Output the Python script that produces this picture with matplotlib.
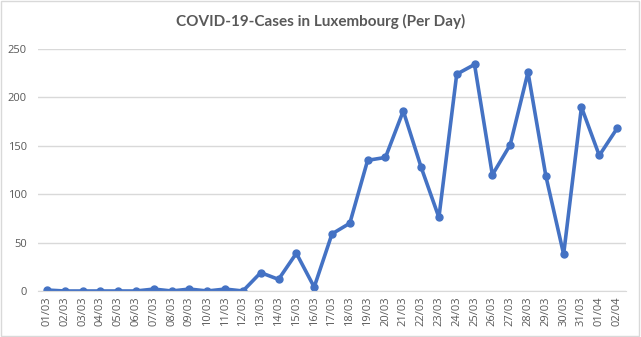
import matplotlib.pyplot as plt
from matplotlib.patches import Rectangle

dates = ['01/03', '02/03', '03/03', '04/03', '05/03', '06/03', '07/03', '08/03',
         '09/03', '10/03', '11/03', '12/03', '13/03', '14/03', '15/03', '16/03',
         '17/03', '18/03', '19/03', '20/03', '21/03', '22/03', '23/03', '24/03',
         '25/03', '26/03', '27/03', '28/03', '29/03', '30/03', '31/03', '01/04',
         '02/04']
cases = [1, 0, 0, 0, 0, 0, 2, 0, 2, 0, 2, 0, 19, 12, 39, 4,
         59, 70, 135, 138, 186, 128, 76, 224, 234, 120, 151, 226, 119, 38, 190, 140,
         168]
yticks = [0, 50, 100, 150, 200, 250]

plt.rcParams['font.family'] = ['Open Sans', 'DejaVu Sans']
text_col = '#595959'
grid_col = '#D9D9D9'

fig = plt.figure(figsize=(6.41, 3.37), dpi=100)
ax = fig.add_axes([38 / 641, 1 - 291 / 337, 588 / 641, 242 / 337])

x = list(range(len(dates)))
ax.plot(x, cases, color='#4472C4', linewidth=2.6, marker='o', markersize=5,
        solid_joinstyle='round')

ax.set_xlim(-0.5, len(dates) - 0.5)
ax.set_ylim(0, 250)
ax.set_yticks(yticks)
ax.set_xticks(x)
ax.set_xticklabels(dates, rotation=90)
ax.tick_params(axis='both', length=0, labelsize=8, colors=text_col)
ax.tick_params(axis='y', pad=8)
ax.tick_params(axis='x', pad=4)
ax.grid(axis='y', color=grid_col, linewidth=1)
ax.set_axisbelow(True)
for s in ['top', 'right', 'left']:
    ax.spines[s].set_visible(False)
ax.spines['bottom'].set_color(grid_col)

fig.suptitle('COVID-19-Cases in Luxembourg (Per Day)', y=1 - 21 / 337, va='center',
             fontsize=11, fontweight='bold', color=text_col, family=['Lato', 'DejaVu Sans'])

fig.patches.append(Rectangle((0.002, 0.003), 0.995, 0.994, transform=fig.transFigure,
                             fill=False, edgecolor=grid_col, linewidth=1))

fig.savefig('out.png', dpi=100)
